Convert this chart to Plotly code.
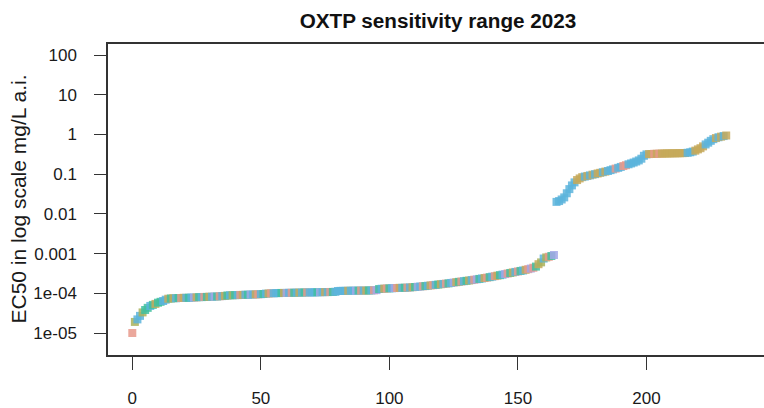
import plotly.graph_objects as go

# ---------------- data ----------------
title_text = "OXTP sensitivity range 2023"
y_title = "EC50 in log scale mg/L a.i."
y_tickvals = [1e-05, 1e-04, 0.001, 0.01, 0.1, 1, 10, 100]
y_ticktext = ["1e-05", "1e-04", "0.001", "0.01", "0.1", "1", "10", "100"]
x_tickvals = [0, 50, 100, 150, 200]

ec50_low = [
    1.0e-5, 1.9e-5, 2.2e-5, 2.7e-5, 3.3e-5, 3.8e-5, 4.3e-5, 4.8e-5, 5.1e-5, 5.4e-5,
    5.8e-5, 6.1e-5, 6.4e-5, 6.9e-5, 7.3e-5, 7.4e-5, 7.5e-5, 7.5e-5, 7.6e-5, 7.6e-5,
    7.7e-5, 7.7e-5, 7.7e-5, 7.8e-5, 7.8e-5, 7.9e-5, 8.0e-5, 8.0e-5, 8.1e-5, 8.1e-5,
    8.2e-5, 8.2e-5, 8.3e-5, 8.3e-5, 8.4e-5, 8.5e-5, 8.6e-5, 8.8e-5, 8.9e-5, 8.9e-5,
    9.0e-5, 9.0e-5, 9.1e-5, 9.1e-5, 9.2e-5, 9.2e-5, 9.3e-5, 9.3e-5, 9.4e-5, 9.4e-5,
    9.5e-5, 9.6e-5, 9.8e-5, 9.9e-5, 1.00e-4, 1.00e-4, 1.01e-4, 1.01e-4, 1.02e-4, 1.02e-4,
    1.02e-4, 1.03e-4, 1.03e-4, 1.03e-4, 1.04e-4, 1.04e-4, 1.04e-4, 1.05e-4, 1.05e-4, 1.05e-4,
    1.05e-4, 1.06e-4, 1.06e-4, 1.06e-4, 1.07e-4, 1.07e-4, 1.07e-4, 1.08e-4, 1.08e-4, 1.09e-4,
    1.14e-4, 1.15e-4, 1.15e-4, 1.15e-4, 1.16e-4, 1.16e-4, 1.16e-4, 1.16e-4, 1.17e-4, 1.17e-4,
    1.17e-4, 1.17e-4, 1.18e-4, 1.18e-4, 1.19e-4, 1.20e-4, 1.28e-4, 1.30e-4, 1.31e-4, 1.32e-4,
    1.33e-4, 1.34e-4, 1.35e-4, 1.36e-4, 1.37e-4, 1.37e-4, 1.38e-4, 1.39e-4, 1.40e-4, 1.42e-4,
    1.44e-4, 1.46e-4, 1.48e-4, 1.50e-4, 1.52e-4, 1.55e-4, 1.58e-4, 1.60e-4, 1.63e-4, 1.66e-4,
    1.69e-4, 1.72e-4, 1.75e-4, 1.78e-4, 1.82e-4, 1.86e-4, 1.90e-4, 1.94e-4, 1.98e-4, 2.02e-4,
    2.06e-4, 2.10e-4, 2.15e-4, 2.20e-4, 2.25e-4, 2.30e-4, 2.36e-4, 2.42e-4, 2.48e-4, 2.55e-4,
    2.62e-4, 2.70e-4, 2.78e-4, 2.86e-4, 2.95e-4, 3.05e-4, 3.15e-4, 3.25e-4, 3.35e-4, 3.45e-4,
    3.55e-4, 3.65e-4, 3.75e-4, 3.90e-4, 4.05e-4, 4.20e-4, 4.40e-4, 4.70e-4, 5.40e-4, 6.00e-4,
    7.50e-4, 8.00e-4, 8.30e-4, 8.70e-4, 9.20e-4,
]
ec50_high = [
    0.020, 0.021, 0.023, 0.026, 0.033, 0.042, 0.052, 0.062, 0.071, 0.078,
    0.084, 0.087, 0.090, 0.093, 0.097, 0.100, 0.104, 0.108, 0.112, 0.116,
    0.120, 0.126, 0.132, 0.138, 0.144, 0.152, 0.160, 0.168, 0.177, 0.186,
    0.196, 0.208, 0.222, 0.245, 0.290, 0.315, 0.320, 0.322, 0.325, 0.326,
    0.328, 0.330, 0.331, 0.332, 0.333, 0.334, 0.335, 0.336, 0.337, 0.338,
    0.340, 0.345, 0.355, 0.370, 0.390, 0.420, 0.450, 0.500, 0.560, 0.620,
    0.690, 0.760, 0.810, 0.850, 0.880, 0.910, 0.940,
]
# isolate group codes, one per point (in sorted order)
groups_low = (
    "SOBBOGGBGK" "GGBBKGKBGS" "KBGBLKGBSG" "KBLGSBKGBO" "GBSKBGLBKS"
    "BGBKSBBBGK" "LBSGBKBGSB" "BBGLBKBSGB" "BBBBKBBLGS" "BKGBSLGBKS"
    "GBLSKBGSBK" "GLBSGBKSBG" "KBSGBLKGSB" "GKBSLGBKSG" "BSKGBLSGKB"
    "SGBKSLSGKO" "BOSGL"
)
groups_high = (
    "BBBBBBBB" "KKKB" "KBKBKKBKBB" "BSBBSSBBBBBBB" "BKKSKS" "KKKKKKKKKK"
    "BBBKKKKBBBBKBKBK"
)
group_colors = {
    "S": "#E8998B",
    "K": "#C6A95A",
    "G": "#3FBF9F",
    "B": "#5CB4DC",
    "L": "#A2A7E6",
    "O": "#A9B25B",
}

# ---------------- figure ----------------
ec50 = ec50_low + ec50_high
groups = groups_low + groups_high
idx = list(range(len(ec50)))
colors = [group_colors[g] for g in groups]

fig = go.Figure()
fig.add_trace(go.Scatter(
    x=idx, y=ec50, mode="markers",
    marker=dict(symbol="square", size=8, color=colors, opacity=0.85,
                line=dict(width=0)),
    showlegend=False, hoverinfo="x+y",
))

font_family = "Liberation Sans, Arial, sans-serif"
W, H = 764, 408
ml, mt, mb, mr = 108, 44, 53, 0
plot_w = W - ml - mr

fig.update_layout(
    width=W, height=H,
    margin=dict(l=ml, r=mr, t=mt, b=mb, pad=0),
    paper_bgcolor="white", plot_bgcolor="white",
    font=dict(family=font_family, color="#1a1a1a"),
    title=dict(text="<b>" + title_text + "</b>", x=438 / W, xref="container",
               xanchor="center", y=1 - 21 / H, yref="container",
               yanchor="middle", font=dict(size=20.7, color="#111111")),
    xaxis=dict(
        range=[-9.45, 245.7], showgrid=False, zeroline=False,
        showline=True, mirror=True, linecolor="#333333", linewidth=1.5,
        ticks="outside", ticklen=13, tickwidth=1.2, tickcolor="#333333",
        tickvals=x_tickvals, ticktext=[str(v) for v in x_tickvals],
        tickfont=dict(size=17), ticklabelstandoff=14,
    ),
    yaxis=dict(
        type="log", range=[-5.554, 2.277], showgrid=False, zeroline=False,
        showline=True, mirror=False, linecolor="#333333", linewidth=1.5,
        ticks="outside", ticklen=12, tickwidth=1.2, tickcolor="#333333",
        tickvals=y_tickvals, ticktext=y_ticktext,
        tickfont=dict(size=17), ticklabelstandoff=14,
    ),
)
fig.add_annotation(
    text=y_title, textangle=-90, showarrow=False,
    xref="paper", yref="paper",
    x=(18 - ml) / plot_w, y=0.5, xanchor="center", yanchor="middle",
    font=dict(size=21, color="#1a1a1a"),
)

fig.write_html("out.html")
